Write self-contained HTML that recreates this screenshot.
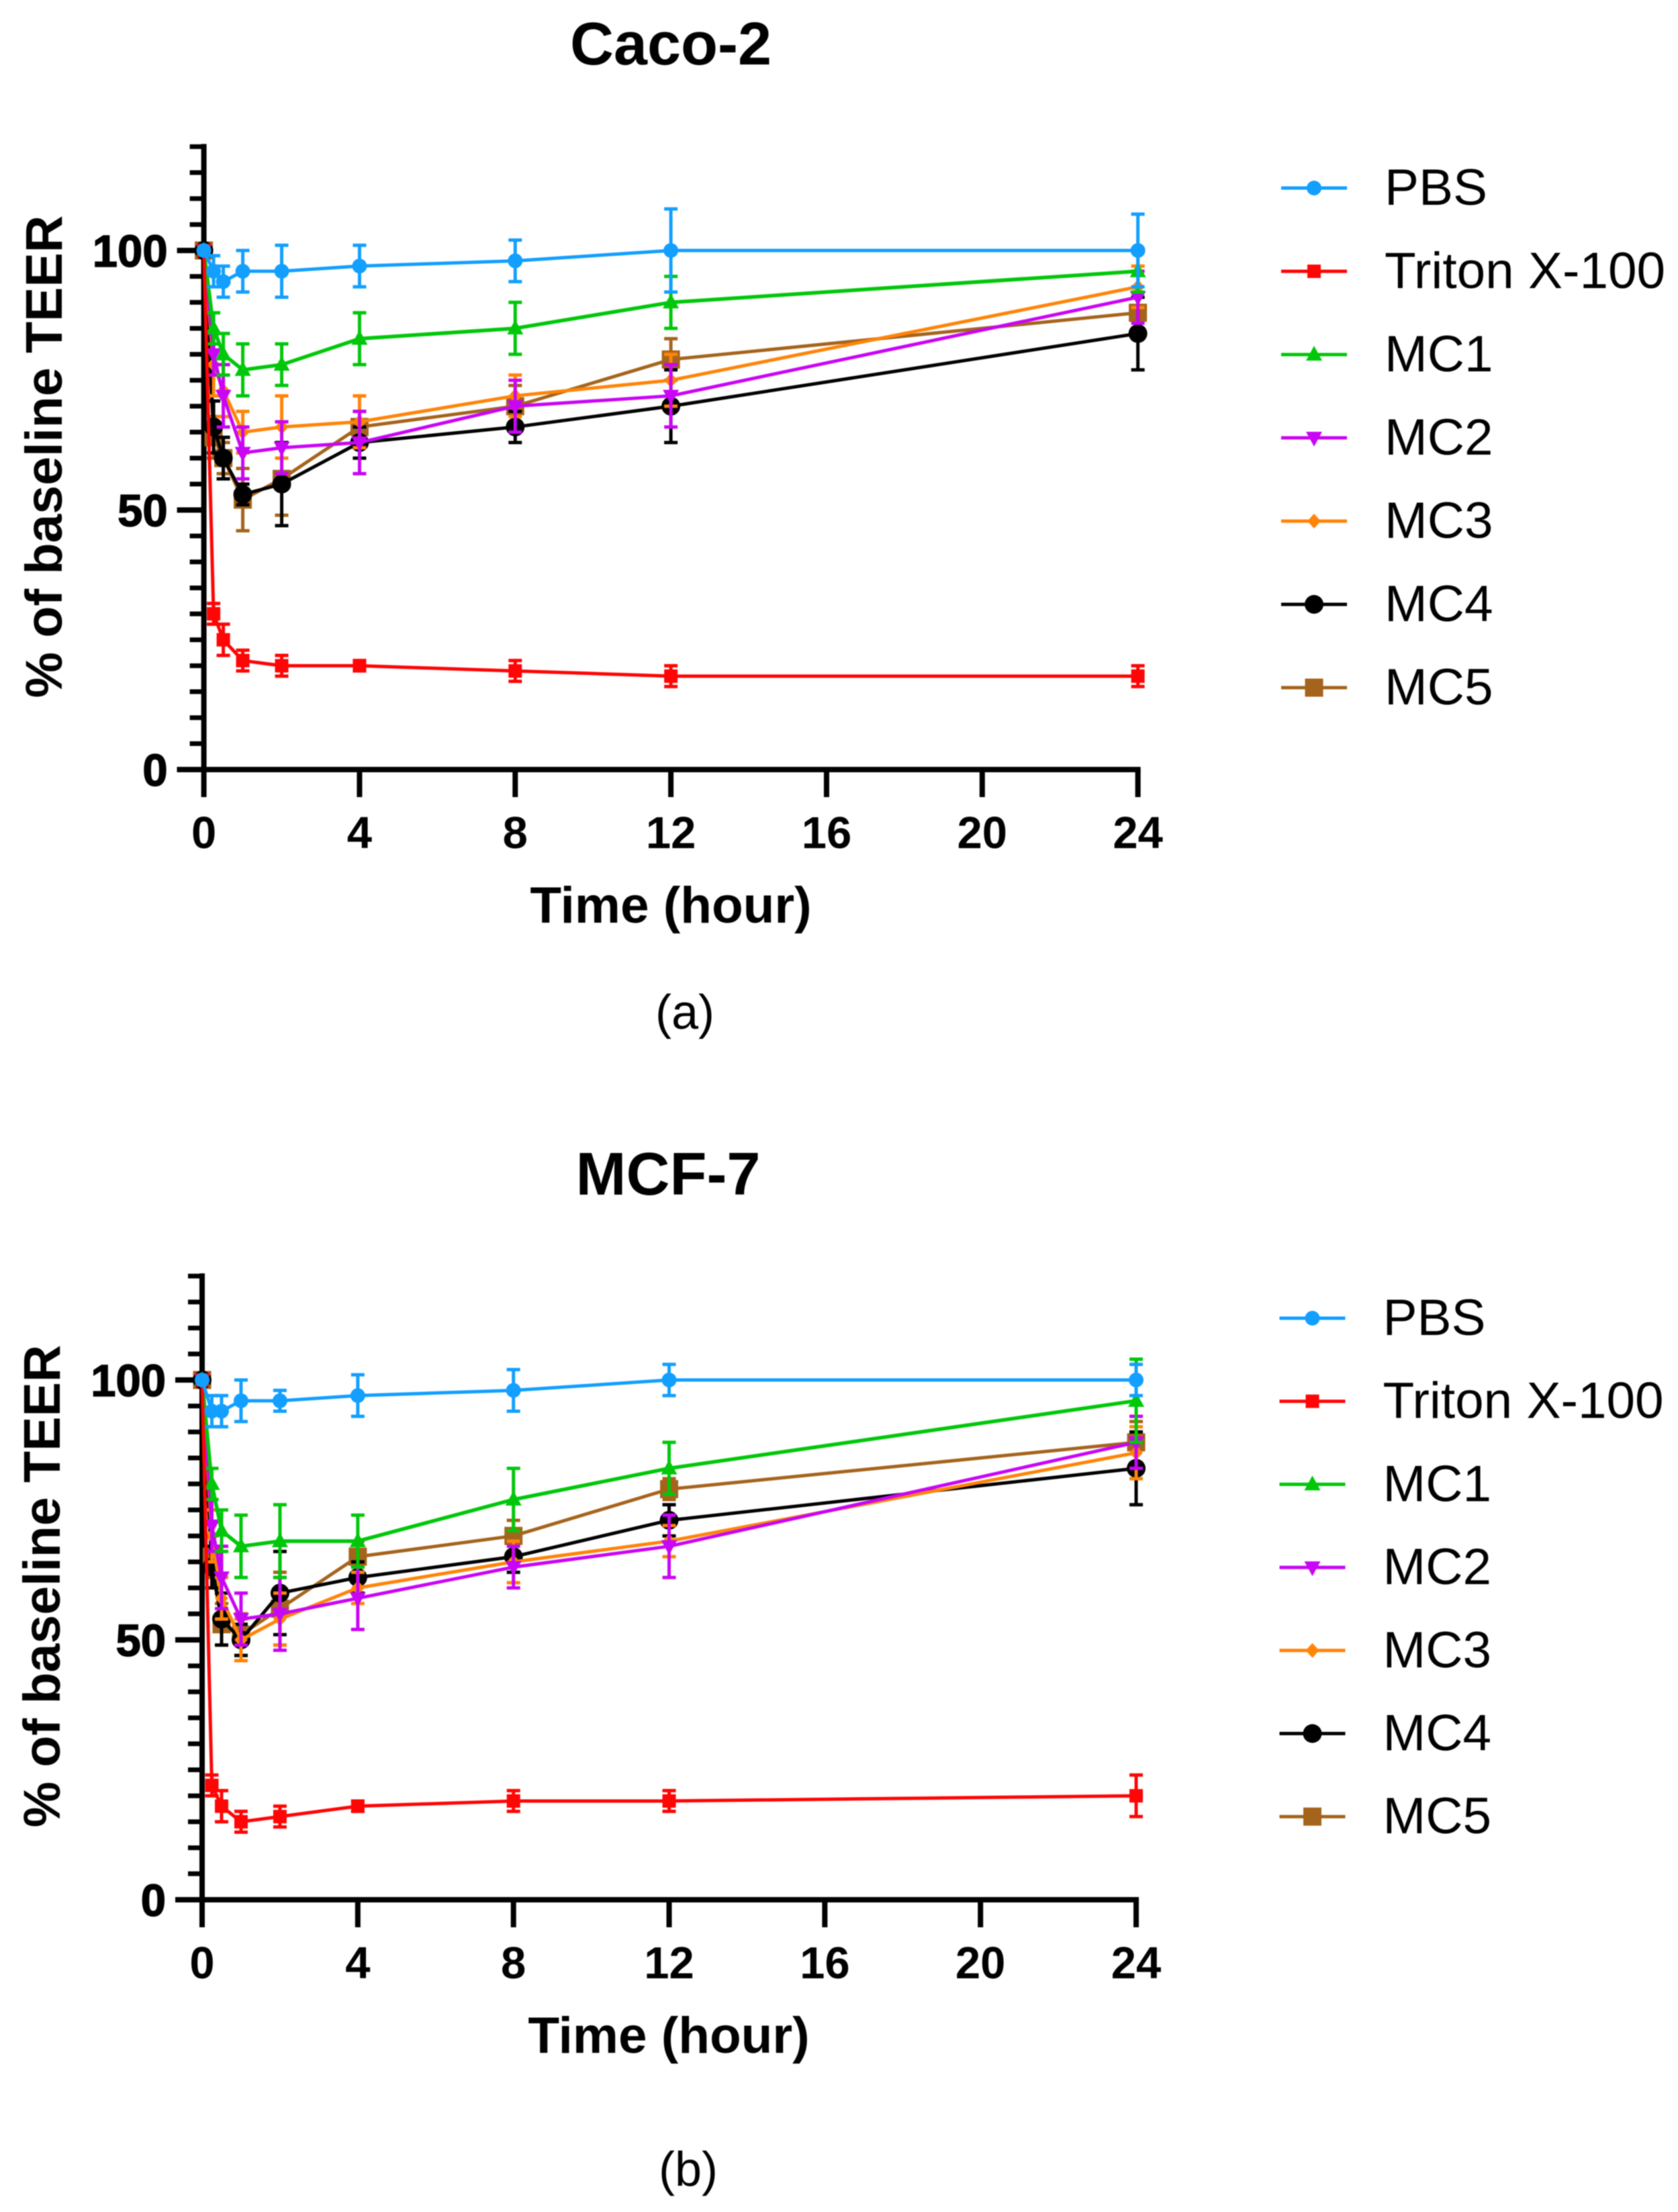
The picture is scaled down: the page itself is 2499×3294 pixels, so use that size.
<!DOCTYPE html>
<html lang="en">
<head>
<meta charset="utf-8">
<title>Baseline TEER over time: Caco-2 and MCF-7</title>
<style>
  html, body { margin: 0; padding: 0; background: #ffffff; }
  svg { display: block; filter: blur(0.8px); }
  text { font-family: "Liberation Sans", sans-serif; fill: #000000; }
  .bold { font-weight: 700; }
</style>
</head>
<body>
<svg id="figure" xmlns="http://www.w3.org/2000/svg" width="2499" height="3294" viewBox="0 0 2499 3294">
  <rect x="0" y="0" width="2499" height="3294" fill="#ffffff"/>

  <text class="bold" x="999" y="96" font-size="90" text-anchor="middle">Caco-2</text>
  <text class="bold" transform="translate(92 680) rotate(-90)" font-size="77" text-anchor="middle">% of baseline TEER</text>
  <text class="bold" x="999" y="1374" font-size="76.5" text-anchor="middle">Time (hour)</text>
  <text x="1020" y="1532" font-size="72" text-anchor="middle">(a)</text>
  <g id="panel-a"></g>

  <text class="bold" x="995" y="1779" font-size="90" text-anchor="middle">MCF-7</text>
  <text class="bold" transform="translate(89 2362) rotate(-90)" font-size="77" text-anchor="middle">% of baseline TEER</text>
  <text class="bold" x="996" y="3057" font-size="76.5" text-anchor="middle">Time (hour)</text>
  <text x="1025" y="3255" font-size="72" text-anchor="middle">(b)</text>
  <g id="panel-b"></g>
</svg>

<script>
// ---- Data ----
const times = [0, 0.25, 0.5, 1, 2, 4, 8, 12, 24];
const xTickLabels = [0, 4, 8, 12, 16, 20, 24];
const yTickLabels = [0, 50, 100];
const yMinorTicks = [5, 10, 15, 20, 25, 30, 35, 40, 45, 55, 60, 65, 70, 75, 80, 85, 90, 95, 105, 110, 115, 120];
const seriesNames = ['PBS', 'Triton X-100', 'MC1', 'MC2', 'MC3', 'MC4', 'MC5'];

const cacoPbs = [100, 96, 94, 96, 96, 97, 98, 100, 100];
const cacoPbsErr = [0, 3, 3, 4, 5, 4, 4, 8, 7];
const cacoTriton = [100, 30, 25, 21, 20, 20, 19, 18, 18];
const cacoTritonErr = [0, 2, 3, 2, 2, 1, 2, 2, 2];
const cacoMc1 = [100, 85, 80, 77, 78, 83, 85, 90, 96];
const cacoMc1Err = [0, 3, 4, 5, 4, 5, 5, 5, 4];
const cacoMc2 = [100, 80, 72, 61, 62, 63, 70, 72, 91];
const cacoMc2Err = [0, 4, 6, 5, 5, 6, 5, 6, 5];
const cacoMc3 = [100, 78, 73, 65, 66, 67, 72, 75, 93];
const cacoMc3Err = [0, 6, 5, 4, 6, 5, 4, 5, 4];
const cacoMc4 = [100, 66, 60, 53, 55, 63, 66, 70, 84];
const cacoMc4Err = [0, 5, 4, 2, 8, 3, 3, 7, 7];
const cacoMc5 = [100, 64, 60, 52, 56, 66, 70, 79, 88];
const cacoMc5Err = [0, 4, 3, 6, 7, 3, 4, 4, 3];

const mcfPbs = [100, 94, 94, 96, 96, 97, 98, 100, 100];
const mcfPbsErr = [0, 3, 3, 4, 2, 4, 4, 3, 3];
const mcfTriton = [100, 22, 18, 15, 16, 18, 19, 19, 20];
const mcfTritonErr = [0, 2, 3, 2, 2, 1, 2, 2, 4];
const mcfMc1 = [100, 80, 71, 68, 69, 69, 77, 83, 96];
const mcfMc1Err = [0, 3, 4, 6, 7, 5, 6, 5, 8];
const mcfMc2 = [100, 72, 62, 54, 55, 58, 64, 68, 88];
const mcfMc2Err = [0, 5, 6, 5, 7, 6, 4, 6, 5];
const mcfMc3 = [100, 70, 58, 50, 54, 60, 65, 69, 86];
const mcfMc3Err = [0, 5, 4, 4, 5, 3, 4, 3, 5];
const mcfMc4 = [100, 64, 54, 50, 59, 62, 66, 73, 83];
const mcfMc4Err = [0, 4, 5, 3, 8, 3, 3, 3, 7];
const mcfMc5 = [100, 66, 53, 51, 56, 66, 70, 79, 88];
const mcfMc5Err = [0, 4, 4, 4, 7, 3, 3, 2, 4];

// ---- Styles ----
const seriesColors = ['#129fff', '#ff0505', '#00c70a', '#c905f5', '#ff8408', '#000000', '#a5641c'];
const seriesMarkers = ['circle-small', 'square-small', 'triangle-up', 'triangle-down', 'diamond', 'circle-large', 'square-large'];

const SVGNS = 'http://www.w3.org/2000/svg';

function slug(s) {
  return s.toLowerCase().replace(/[^a-z0-9]+/g, '-');
}

function shape(parent, tag, attrs) {
  const el = document.createElementNS(SVGNS, tag);
  Object.keys(attrs).forEach(function (k) { el.setAttribute(k, attrs[k]); });
  parent.appendChild(el);
  return el;
}

function marker(parent, kind, cx, cy, color) {
  if (kind === 'circle-small') return shape(parent, 'circle', { cx: cx, cy: cy, r: 11, fill: color });
  if (kind === 'circle-large') return shape(parent, 'circle', { cx: cx, cy: cy, r: 14, fill: color });
  if (kind === 'square-small') return shape(parent, 'rect', { x: cx - 10, y: cy - 10, width: 20, height: 20, fill: color });
  if (kind === 'square-large') return shape(parent, 'rect', { x: cx - 13.5, y: cy - 13.5, width: 27, height: 27, fill: color });
  var pts;
  if (kind === 'triangle-up') pts = [[cx, cy - 13], [cx + 12, cy + 9], [cx - 12, cy + 9]];
  if (kind === 'triangle-down') pts = [[cx, cy + 13], [cx + 12, cy - 9], [cx - 12, cy - 9]];
  if (kind === 'diamond') pts = [[cx, cy - 11], [cx + 10, cy], [cx, cy + 11], [cx - 10, cy]];
  return shape(parent, 'polygon', { points: pts.map(function (p) { return p.join(','); }).join(' '), fill: color });
}

function drawPanel(root, prefix, cfg, values, errors) {
  const xScale = function (t) { return cfg.x0 + t * cfg.xPerHour; };
  const yScale = function (v) { return cfg.y0 - v * cfg.yPerUnit; };

  // Axes sit underneath the data
  const yAxis = shape(root, 'line', { x1: cfg.x0, x2: cfg.x0, y1: yScale(120) - 4, y2: cfg.y0 + 4, stroke: '#000', 'stroke-width': 8 });
  
  

  const xAxis = shape(root, 'line', { x1: cfg.x0 - 40, x2: xScale(24) + 4, y1: cfg.y0, y2: cfg.y0, stroke: '#000', 'stroke-width': 8 });
  
  

  yMinorTicks.forEach(function (v) {
    const tick = shape(root, 'line', { x1: cfg.x0 - 21, x2: cfg.x0, y1: yScale(v), y2: yScale(v), stroke: '#000', 'stroke-width': 7 });
    
    
  });

  yTickLabels.forEach(function (v) {
    const tick = shape(root, 'line', { x1: cfg.x0 - 40, x2: cfg.x0, y1: yScale(v), y2: yScale(v), stroke: '#000', 'stroke-width': 8 });
    
    
    const label = shape(root, 'text', { x: cfg.x0 - 54, y: yScale(v) + 24, 'font-size': 67, 'font-weight': 700, 'text-anchor': 'end', stroke: '#000', 'stroke-width': 1.5 });
    label.textContent = String(v);
    
    
  });

  xTickLabels.forEach(function (t) {
    const tick = shape(root, 'line', { x1: xScale(t), x2: xScale(t), y1: cfg.y0, y2: cfg.y0 + 41, stroke: '#000', 'stroke-width': 8 });
    
    
    const label = shape(root, 'text', { x: xScale(t), y: cfg.y0 + 117, 'font-size': 67, 'font-weight': 700, 'text-anchor': 'middle' });
    label.textContent = String(t);
    
    
  });

  // Series are painted last-to-first so PBS ends up on top
  for (let s = seriesNames.length - 1; s >= 0; s--) {
    const color = seriesColors[s];
    const sname = slug(seriesNames[s]);
    const g = shape(root, 'g', {});
    
    

    const linePts = times.map(function (t, i) { return xScale(t) + ',' + yScale(values[s][i]); }).join(' ');
    const line = shape(g, 'polyline', { points: linePts, fill: 'none', stroke: color, 'stroke-width': (s === 2 ? 5.5 : 5), 'stroke-linejoin': 'round' });
    
    

    times.forEach(function (t, i) {
      const cx = xScale(t);
      const hi = yScale(values[s][i] + errors[s][i]);
      const lo = yScale(values[s][i] - errors[s][i]);
      const path = 'M' + (cx - 10) + ' ' + hi + 'H' + (cx + 10) + 'M' + cx + ' ' + hi + 'V' + lo + 'M' + (cx - 10) + ' ' + lo + 'H' + (cx + 10);
      const bar = shape(g, 'path', { d: path, fill: 'none', stroke: color, 'stroke-width': 5 });
      
      

      const pt = marker(g, seriesMarkers[s], cx, yScale(values[s][i]), color);
      
      
    });
  }

  // Legend
  seriesNames.forEach(function (name, s) {
    const y = cfg.legendY + s * cfg.legendStep;
    const entry = shape(root, 'g', {});
    
    

    const sw = shape(entry, 'line', { x1: cfg.legendX, x2: cfg.legendX + 98, y1: y, y2: y, stroke: seriesColors[s], 'stroke-width': 5 });
    
    

    const mk = marker(entry, seriesMarkers[s], cfg.legendX + 49, y, seriesColors[s]);
    
    

    const label = shape(entry, 'text', { x: cfg.legendX + 154, y: y + 25, 'font-size': 76.5 });
    label.textContent = name;
    
    
  });
}

drawPanel(
  document.getElementById('panel-a'), 'caco2',
  { x0: 303.6, xPerHour: 57.96, y0: 1146, yPerUnit: 7.73, legendX: 1908, legendY: 280, legendStep: 124 },
  [cacoPbs, cacoTriton, cacoMc1, cacoMc2, cacoMc3, cacoMc4, cacoMc5],
  [cacoPbsErr, cacoTritonErr, cacoMc1Err, cacoMc2Err, cacoMc3Err, cacoMc4Err, cacoMc5Err]
);

drawPanel(
  document.getElementById('panel-b'), 'mcf7',
  { x0: 301, xPerHour: 57.96, y0: 2829, yPerUnit: 7.74, legendX: 1905.5, legendY: 1963, legendStep: 123.7 },
  [mcfPbs, mcfTriton, mcfMc1, mcfMc2, mcfMc3, mcfMc4, mcfMc5],
  [mcfPbsErr, mcfTritonErr, mcfMc1Err, mcfMc2Err, mcfMc3Err, mcfMc4Err, mcfMc5Err]
);
</script>
</body>
</html>
